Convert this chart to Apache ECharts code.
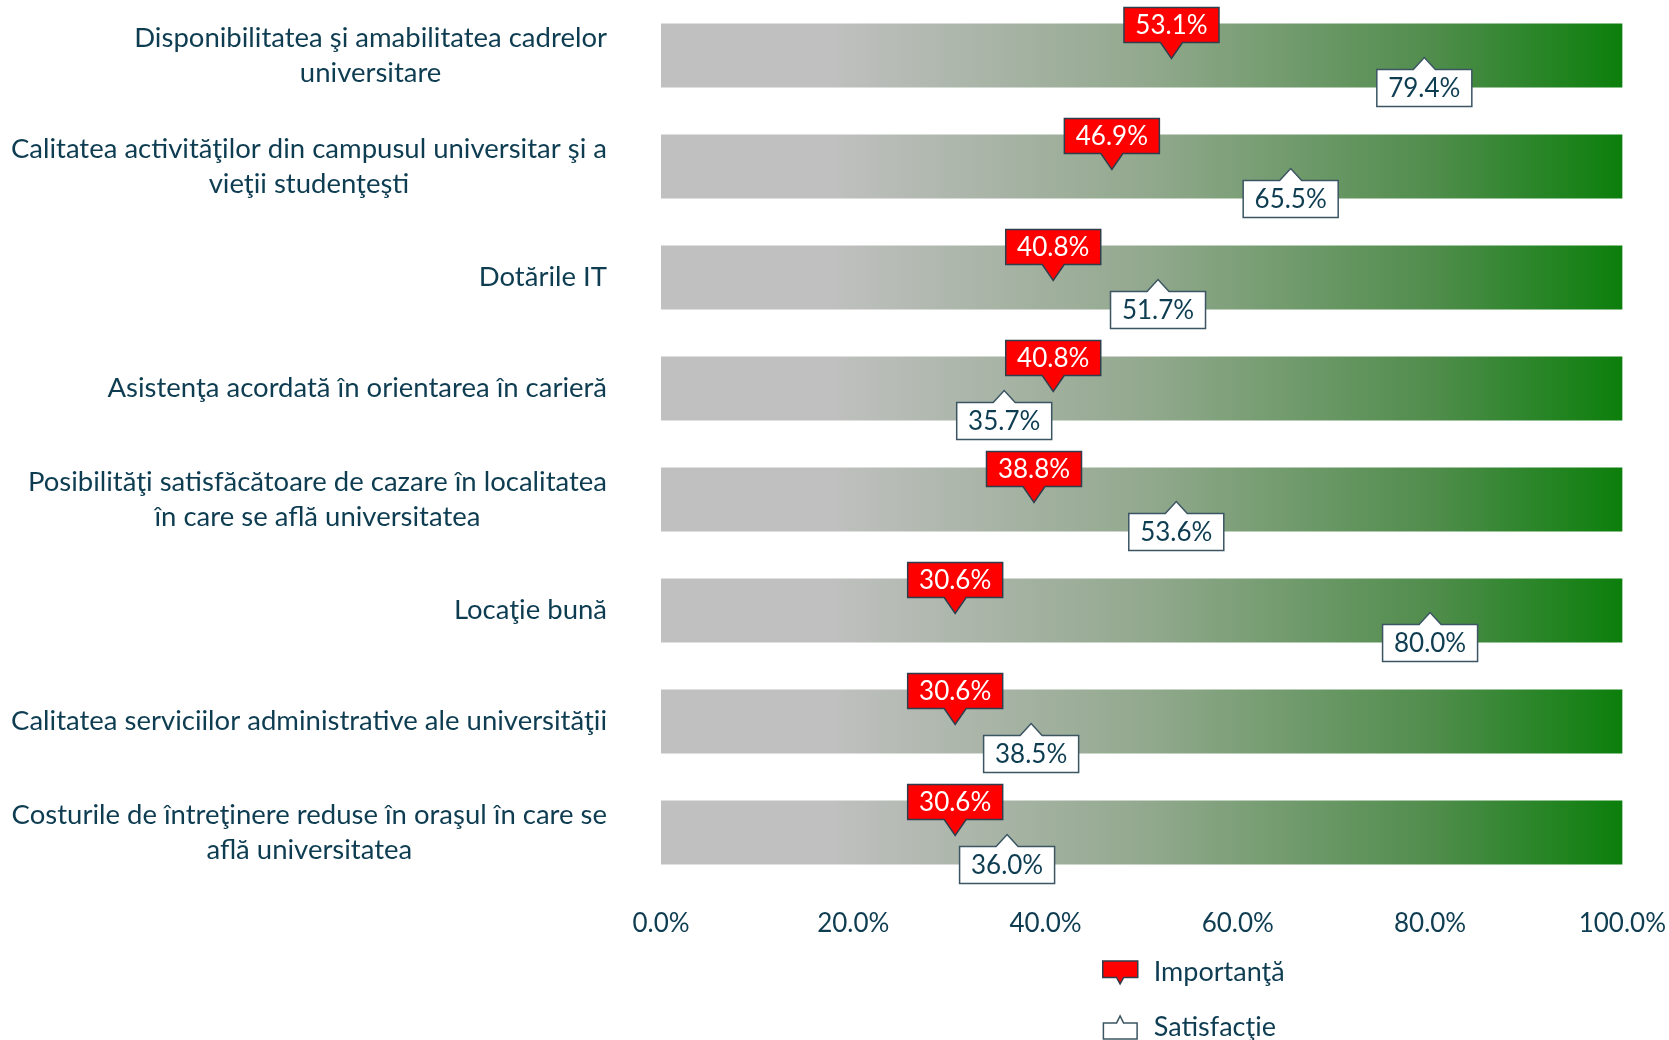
<!DOCTYPE html>
<html>
<head>
<meta charset="utf-8">
<script src="https://cdn.jsdelivr.net/npm/echarts@6/dist/echarts.min.js"></script>
<style>
html,body{margin:0;padding:0;background:#fff;}
#chart{width:1669px;height:1040px;}
</style>
</head>
<body>
<div id="chart"></div>
<script>
const categories = [
  "Disponibilitatea şi amabilitatea cadrelor\nuniversitare",
  "Calitatea activităţilor din campusul universitar şi a\nvieţii studenţeşti",
  "Dotările IT",
  "Asistenţa acordată în orientarea în carieră",
  "Posibilităţi satisfăcătoare de cazare în localitatea\nîn care se află universitatea",
  "Locaţie bună",
  "Calitatea serviciilor administrative ale universităţii",
  "Costurile de întreţinere reduse în oraşul în care se\nafla universitatea".replace("afla","află")
];
const importance = [53.1, 46.9, 40.8, 40.8, 38.8, 30.6, 30.6, 30.6];
const satisfaction = [79.4, 65.5, 51.7, 35.7, 53.6, 80.0, 38.5, 36.0];
const axisMin = 0, axisMax = 100, axisStep = 20;
const seriesNames = ["Importanţă", "Satisfacţie"];

const TEXT = '#0e3d52';
const FONT = 'Lato';
const fmt = v => Number(v).toFixed(1) + '%';

function renderImp(params, api) {
  const p = api.coord([api.value(0), api.value(1)]);
  const cx = p[0], cy = p[1];
  const w = 95, top = cy - 48, bot = cy - 13, hw = 11, tip = cy + 3;
  return {type: 'group', children: [
    {type: 'polygon', shape: {points: [[cx - w/2, top], [cx + w/2, top], [cx + w/2, bot], [cx + hw, bot], [cx, tip], [cx - hw, bot], [cx - w/2, bot]]},
     style: {fill: '#ff0000', stroke: '#2d3e4c', lineWidth: 1.5}},
    {type: 'text', style: {text: fmt(api.value(0)), x: cx, y: (top + bot) / 2 + 1, align: 'center', verticalAlign: 'middle', fill: '#ffffff', fontSize: 26, fontFamily: FONT}}
  ]};
}
function renderSat(params, api) {
  const p = api.coord([api.value(0), api.value(1)]);
  const cx = p[0], cy = p[1];
  const w = 95, top = cy + 14, bot = cy + 51, hw = 11, tip = cy + 2;
  return {type: 'group', children: [
    {type: 'polygon', shape: {points: [[cx - w/2, top], [cx - hw, top], [cx, tip], [cx + hw, top], [cx + w/2, top], [cx + w/2, bot], [cx - w/2, bot]]},
     style: {fill: '#ffffff', stroke: '#3b5563', lineWidth: 1.5}},
    {type: 'text', style: {text: fmt(api.value(0)), x: cx, y: (top + bot) / 2 + 1, align: 'center', verticalAlign: 'middle', fill: TEXT, fontSize: 26, fontFamily: FONT}}
  ]};
}

const chart = echarts.init(document.getElementById('chart'));
chart.setOption({
  animation: false,
  backgroundColor: '#ffffff',
  grid: {left: 661, right: 43, top: 0, height: 888, containLabel: false},
  xAxis: {
    type: 'value', min: axisMin, max: axisMax, interval: axisStep,
    axisLine: {show: false}, axisTick: {show: false}, splitLine: {show: false},
    axisLabel: {formatter: v => v.toFixed(1) + '%', color: TEXT, fontSize: 26, fontFamily: FONT, margin: 23}
  },
  yAxis: {
    type: 'category', data: categories, inverse: true,
    axisLine: {show: false}, axisTick: {show: false}, splitLine: {show: false},
    axisLabel: {
      margin: 54, color: TEXT, fontSize: 27.5, fontFamily: FONT, lineHeight: 35,
      formatter: v => v.split('\n').map(l => '{c|' + l + '}').join('\n'),
      rich: {c: {align: 'center', color: TEXT, fontSize: 27.5, fontFamily: FONT, lineHeight: 35}}
    }
  },
  legend: {
    orient: 'vertical', left: 1102, top: 959, height: 120, padding: 0,
    itemWidth: 35, itemHeight: 23, itemGap: 28,
    textStyle: {color: TEXT, fontSize: 27, fontFamily: FONT, padding: [0, 0, 0, 11]},
    data: [
      {name: seriesNames[0], icon: 'path://M0,0 H107 V50 H64 L53,70 L42,50 H0 Z',
       itemStyle: {color: '#ff0000', borderColor: '#2d3e4c', borderWidth: 1.5}},
      {name: seriesNames[1], icon: 'path://M0,22 H42 L53,0 L64,22 H107 V73 H0 Z',
       itemStyle: {color: '#ffffff', borderColor: '#3b5563', borderWidth: 1.5}}
    ]
  },
  series: [
    {
      type: 'bar', barWidth: 64, silent: true,
      data: categories.map(() => axisMax),
      itemStyle: {color: {type: 'linear', x: 0, y: 0, x2: 1, y2: 0, colorStops: [
        {offset: 0, color: '#c0c0c0'},
        {offset: 0.18, color: '#bfc0bf'},
        {offset: 0.5, color: '#93a98f'},
        {offset: 0.8, color: '#518d4d'},
        {offset: 1, color: '#0b7f0b'}
      ]}}
    },
    {
      name: seriesNames[0], type: 'custom', renderItem: renderImp,
      data: importance.map((v, i) => [v, i]), encode: {x: 0, y: 1}, z: 3,
      itemStyle: {color: '#ff0000'}
    },
    {
      name: seriesNames[1], type: 'custom', renderItem: renderSat,
      data: satisfaction.map((v, i) => [v, i]), encode: {x: 0, y: 1}, z: 4,
      itemStyle: {color: '#ffffff'}
    }
  ]
});
</script>
</body>
</html>
